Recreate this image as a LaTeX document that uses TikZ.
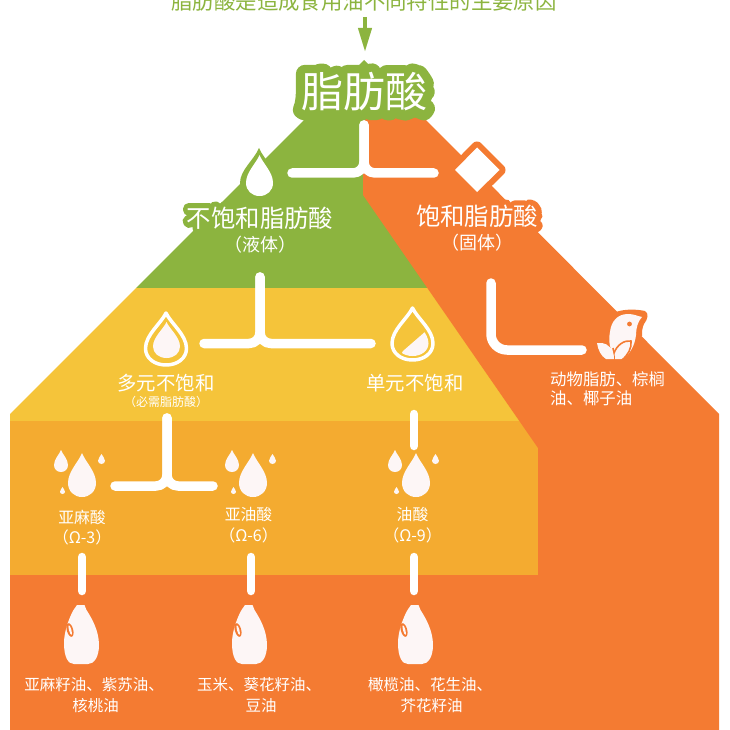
\documentclass[tikz,border=0pt]{standalone}
\usepackage{fontspec}
\usetikzlibrary{arrows.meta}
\setmainfont{Noto Sans CJK SC}
\newfontfamily\halofont[FakeBold=44]{Noto Sans CJK SC}
\definecolor{cgreen}{HTML}{8CB43F}
\definecolor{cyellow}{HTML}{F5C43A}
\definecolor{camber}{HTML}{F4AB30}
\definecolor{corange}{HTML}{F47B32}
\definecolor{cwhite}{HTML}{FDF6F6}
\newcommand{\fs}[1]{\fontsize{#1}{#1}\selectfont}
\tikzset{
  conn/.style={draw=white,line width=9.5pt,line cap=round,rounded corners=11pt},
  lbl/.style={text=white,inner sep=0pt,align=center,font=\fs{#1}},
  lbl/.default=16,
}
% unit drop: tip at (0,0), bottom at (0,1), width 1
\newcommand{\dropshape}{(0,0) .. controls (-0.12,0.2) and (-0.5,0.42) .. (-0.5,0.68) .. controls (-0.5,0.87) and (-0.28,1) .. (0,1) .. controls (0.28,1) and (0.5,0.87) .. (0.5,0.68) .. controls (0.5,0.42) and (0.12,0.2) .. (0,0) -- cycle}
\newcommand{\dropfill}[5]{\fill[#5,shift={(#1,#2)},xscale=#3,yscale=#4] \dropshape;}
\newcommand{\droptrio}[1]{%
  \begin{scope}[shift={(#1,0)}]
  \dropfill{82}{453}{28}{44}{cwhite}
  \dropfill{61}{450}{14}{22}{cwhite}
  \dropfill{101.5}{454}{7}{10}{cwhite}
  \dropfill{62.5}{487}{5}{7}{cwhite}
  \end{scope}}
\newcommand{\bottle}[1]{%
  \begin{scope}[shift={(#1,605)}]
  \fill[cwhite] (13,0) -- (20.5,0) -- (22.5,5) .. controls (27,12) and (35,25) .. (35,40) .. controls (35,52) and (30,59) .. (24,59) -- (10,59) .. controls (4,59) and (0,52) .. (0,38) .. controls (0,28) and (4,15) .. (9.5,5) -- cycle;
  \fill[corange] (6,25) ellipse [x radius=3.2,y radius=7,rotate=15];
  \fill[cwhite] (6.2,25) ellipse [x radius=1.2,y radius=5,rotate=15];
  \end{scope}}
\begin{document}
\begin{tikzpicture}[x=1pt,y=-1pt,line join=round]
\useasboundingbox (0,0) rectangle (730,730);
% bands
\fill[cgreen] (364,60) -- (592,288) -- (136,288) -- cycle;
\fill[cyellow] (136,288) -- (431,288) -- (524,421) -- (10,421) -- (10,414) -- cycle;
\fill[camber] (10,421) -- (524,421) -- (538,441) -- (538,575) -- (10,575) -- cycle;
\fill[corange] (363,117) -- (423,117) -- (719,414) -- (719,730) -- (10,730) -- (10,575) -- (538,575) -- (538,448) -- (363,195) -- cycle;
% title
\node[inner sep=0pt,text=cgreen,font=\fs{21.4}] (title) at (364,1) {脂肪酸是造成食用油不同特性的主要原因};
\coordinate (arrowstart) at (365,17);
\coordinate (arrowend) at (365,52);
\draw[cgreen,line width=4pt,-{Triangle[length=24pt,width=13pt]}] (arrowstart) -- (arrowend);
% halos
\node[inner sep=0pt,text=cgreen,font=\halofont\fs{42}] (rooth) at (364,92) {脂肪酸};
\node[lbl=42] (root) at (364,92) {脂肪酸};
% level 1 icons
\fill[cgreen] (259,148) .. controls (254,160) and (240,170) .. (240,183) .. controls (240,192) and (248,201) .. (259,201) .. controls (270,201) and (278,192) .. (278,183) .. controls (278,170) and (264,160) .. (259,148) -- cycle;
\dropfill{259.5}{155}{27}{41}{white}
\draw[corange,line width=12pt] (477,147.5) -- (499.5,170) -- (477,192) -- (455,170) -- cycle;
\fill[white] (477,147.5) -- (499.5,170) -- (477,192) -- (455,170) -- cycle;
\node[inner sep=0pt,text=cgreen,font=\halofont\fs{24.4}] (unsath) at (260,218) {不饱和脂肪酸};
\node[lbl=24.4] (unsat) at (260,218) {不饱和脂肪酸};
\node[lbl=18] (unsat2) at (260,245) {（液体）};
\node[inner sep=0pt,text=corange,font=\halofont\fs{24.4}] (sath) at (477,216) {饱和脂肪酸};
\node[lbl=24.4] (sat) at (477,216) {饱和脂肪酸};
\node[lbl=18] (sat2) at (477,243) {（固体）};
% connectors
\coordinate (a0) at (364,125); \coordinate (aj) at (364,173); \coordinate (al) at (292,173); \coordinate (ar) at (434,173);
\draw[conn] (a0) -- (aj) -- (al);
\draw[conn] (a0) -- (aj) -- (ar);
\coordinate (b0) at (260,277); \coordinate (bj) at (260,343.5); \coordinate (bl) at (204,343.5); \coordinate (br) at (371,343.5);
\draw[conn] (b0) -- (bj) -- (bl);
\draw[conn] (b0) -- (bj) -- (br);
\coordinate (c0) at (491,283); \coordinate (cj) at (491,350); \coordinate (cr) at (582,350);
\draw[conn,rounded corners=16pt] (c0) -- (cj) -- (cr);
\coordinate (d0) at (167,418); \coordinate (dj) at (167,486); \coordinate (dl) at (115,486); \coordinate (dr) at (213,486);
\draw[conn] (d0) -- (dj) -- (dl);
\draw[conn] (d0) -- (dj) -- (dr);
\coordinate (e0) at (414,414); \coordinate (e1) at (414,446);
\draw[conn,line width=8.5pt] (e0) -- (e1);
\foreach \nm/\xx in {f/82,g/251,h/414}{
  \coordinate (\nm0) at (\xx,557); \coordinate (\nm1) at (\xx,591);
  \draw[conn,line width=8.5pt] (\nm0) -- (\nm1);
}
% ring drops
\draw[white,line width=3.5pt,shift={(166,313)},xscale=41,yscale=52] \dropshape;
\dropfill{166.5}{322}{27}{36}{cwhite}
\draw[white,line width=3.5pt,shift={(412.5,308)},xscale=41,yscale=52] \dropshape;
\begin{scope}
\clip (403,351) -- (426,331) -- (440,331) -- (440,365) -- (395,365) -- cycle;
\dropfill{412.5}{316}{32}{40}{cwhite}
\end{scope}
% level 2 labels
\node[inner sep=0pt,text=cyellow,font=\halofont\fs{19.4}] (polyh) at (166,383) {多元不饱和};
\node[lbl=19.4] (poly) at (166,383) {多元不饱和};
\node[lbl=12] (poly2) at (166,402) {（必需脂肪酸）};
\node[lbl=19.4] (mono) at (415,383) {单元不饱和};
% bird
\fill[corange] (616,312) .. controls (624,309) and (636,309) .. (645,311) .. controls (649,313) and (648,319) .. (644,324) .. controls (642,328) and (642,332) .. (642,336) -- (625,345) -- (605,330) -- cycle;
\fill[cwhite] (642,317) .. controls (637,316) and (634,314) .. (628,314) .. controls (617,314) and (611,322) .. (610,332) .. controls (609,337) and (609,341) .. (610,346) .. controls (612,352) and (613,356) .. (615,359) -- (623,359) .. controls (630,354) and (635,345) .. (636,335) .. controls (636,328) and (638,321) .. (642,317) -- cycle;
\fill[corange] (629.5,324) circle (2.4pt);
\draw[corange,line width=1.6pt,line cap=round] (631,341) .. controls (624,340) and (617,345) .. (614,353);
\draw[corange,line width=1.6pt] (613,348) .. controls (614,352) and (614,356) .. (614,360);
\draw[corange,line width=1.6pt,line cap=round] (631,341) .. controls (632,348) and (628,355) .. (622,360);
\fill[cwhite] (597,343) .. controls (604,342) and (610,345) .. (613,352) .. controls (614,355) and (614,357) .. (614,359) -- (606,359) .. controls (601,356) and (598,350) .. (597,343) -- cycle;
\node[lbl=16.4,align=left,anchor=north west] (animal) at (550,371) {动物脂肪、棕榈\\[3.4pt]油、椰子油};
% level 3
\droptrio{0}
\droptrio{171}
\droptrio{334}
\node[lbl=15.8] (ala) at (82,517) {亚麻酸};
\node[lbl=16] (ala2) at (82,537) {（Ω-3）};
\node[lbl=15.8] (la) at (248.5,514.5) {亚油酸};
\node[lbl=16] (la2) at (248.5,535) {（Ω-6）};
\node[lbl=15.8] (ol) at (412.5,514.5) {油酸};
\node[lbl=16] (ol2) at (412.5,535) {（Ω-9）};
% bottles
\bottle{64}
\bottle{232}
\bottle{398}
\node[lbl=15.5] (s1a) at (94,685) {亚麻籽油、紫苏油、};
\node[lbl=15.5] (s1b) at (95.5,706) {核桃油};
\node[lbl=15.5] (s2a) at (259,685) {玉米、葵花籽油、};
\node[lbl=15.5] (s2b) at (261,706) {豆油};
\node[lbl=15.5] (s3a) at (430,685) {橄榄油、花生油、};
\node[lbl=15.5] (s3b) at (431.5,706) {芥花籽油};
\end{tikzpicture}
\end{document}
